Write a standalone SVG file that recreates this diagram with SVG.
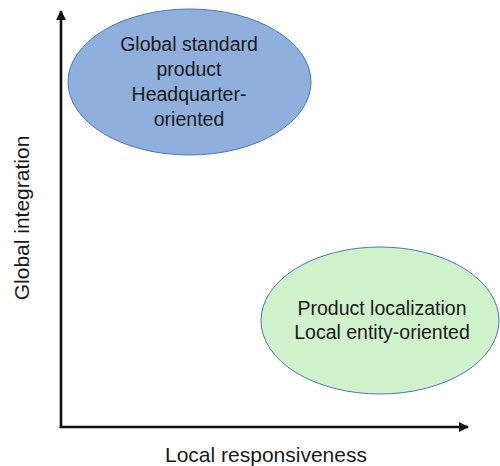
<svg xmlns="http://www.w3.org/2000/svg" width="500" height="466" viewBox="0 0 500 466">
<style>
text{font-family:"Liberation Sans",Arial,sans-serif;fill:#1a1a1a;text-anchor:middle}
.n{font-size:19.5px}
.ax{font-size:21px}
.axis{stroke:#111;stroke-width:2.6;fill:none}
</style>
<defs>
<marker id="ah" viewBox="0 0 10 10" refX="9" refY="5" markerWidth="4" markerHeight="4" markerUnits="strokeWidth" orient="auto">
<path d="M0,0 L10,5 L0,10 z" fill="#111"/>
</marker>
</defs>
<g id="connectors">
<line class="axis" x1="61" y1="428" x2="61" y2="11" marker-end="url(#ah)"/>
<line class="axis" x1="59.7" y1="427" x2="468" y2="427" marker-end="url(#ah)"/>
</g>
<g id="global">
<ellipse cx="189.5" cy="82" rx="121.5" ry="73" fill="#8FAFDC" stroke="#4A74BD" stroke-width="1"/>
<text class="n" x="189" y="51">Global standard</text>
<text class="n" x="189" y="76">product</text>
<text class="n" x="189" y="101">Headquarter-</text>
<text class="n" x="189" y="126">oriented</text>
</g>
<g id="local">
<ellipse cx="380" cy="320.5" rx="119" ry="73.5" fill="#D0F2CB" stroke="#4A74BD" stroke-width="1"/>
<text class="n" x="382" y="315">Product localization</text>
<text class="n" x="382" y="339">Local entity-oriented</text>
</g>
<g id="labels">
<text class="ax" x="266" y="462">Local responsiveness</text>
<text class="ax" transform="translate(29 218) rotate(-90)">Global integration</text>
</g>
</svg>
